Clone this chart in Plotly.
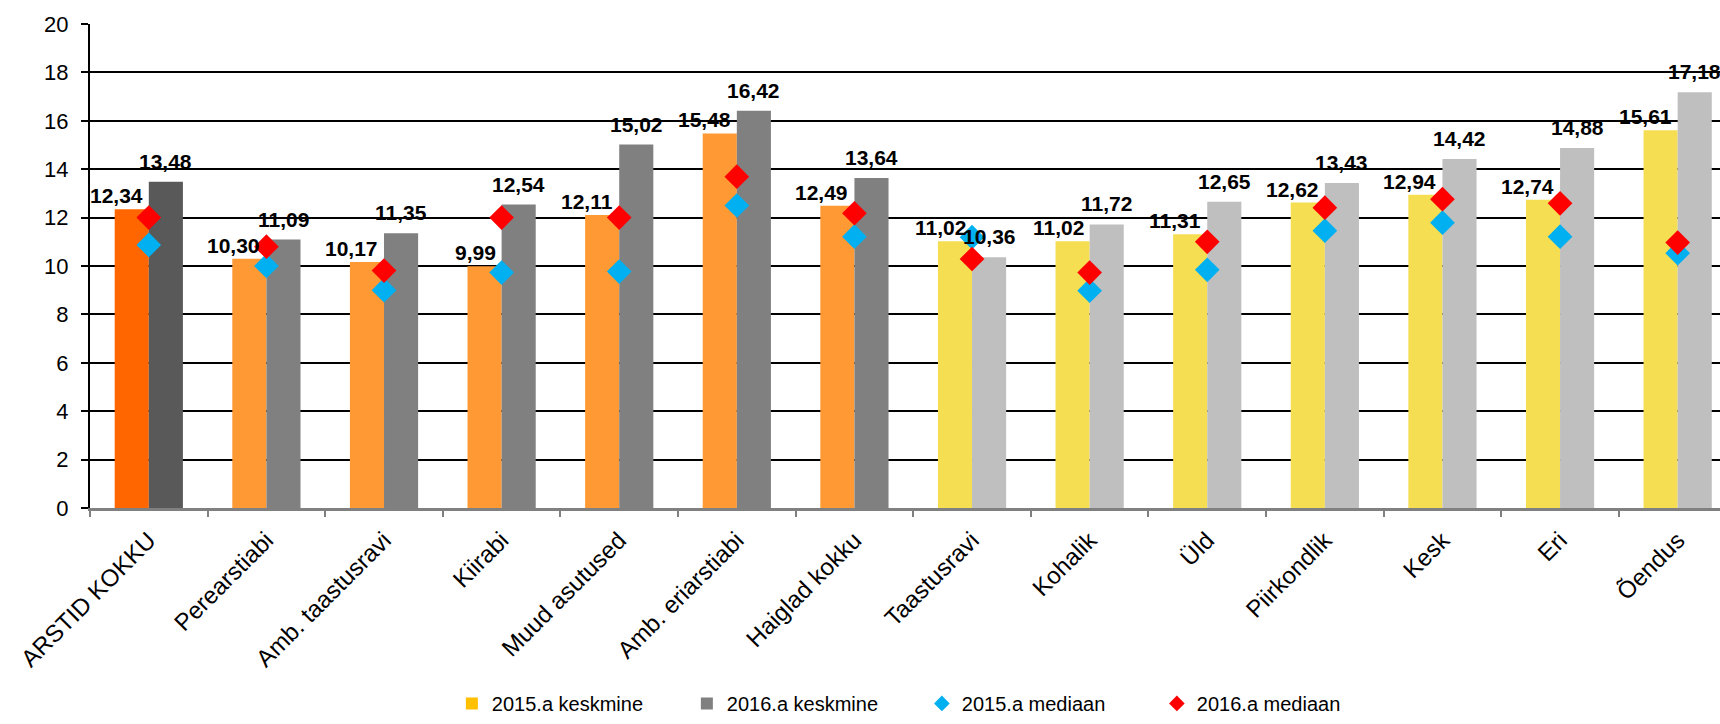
import plotly.graph_objects as go

categories = ["ARSTID KOKKU", "Perearstiabi", "Amb. taastusravi", "Kiirabi", "Muud asutused",
              "Amb. eriarstiabi", "Haiglad kokku", "Taastusravi", "Kohalik", "Üld",
              "Piirkondlik", "Kesk", "Eri", "Õendus"]
mean_2015 = [12.34, 10.30, 10.17, 9.99, 12.11, 15.48, 12.49, 11.02, 11.02, 11.31, 12.62, 12.94, 12.74, 15.61]
mean_2016 = [13.48, 11.09, 11.35, 12.54, 15.02, 16.42, 13.64, 10.36, 11.72, 12.65, 13.43, 14.42, 14.88, 17.18]
median_2015 = [10.87, 10.00, 9.00, 9.73, 9.77, 12.50, 11.21, 11.19, 8.98, 9.84, 11.46, 11.79, 11.21, 10.53]
median_2016 = [12.00, 10.80, 9.81, 12.00, 12.00, 13.69, 12.18, 10.29, 9.73, 11.00, 12.41, 12.76, 12.59, 10.97]
y_ticks = [0, 2, 4, 6, 8, 10, 12, 14, 16, 18, 20]

# colour groups: total, outpatient/other, hospitals
colors_2015 = ["#FF6600"] + ["#FF9933"] * 6 + ["#F6DE52"] * 7
colors_2016 = ["#595959"] + ["#808080"] * 6 + ["#BFBFBF"] * 7

FONT = "Liberation Sans, Arial, sans-serif"

def fmt(v):
    return f"{v:.2f}".replace(".", ",")

fig = go.Figure()
fig.add_trace(go.Bar(x=categories, y=mean_2015, marker=dict(color=colors_2015, line=dict(width=0)),
                     name="2015.a keskmine", showlegend=False, hoverinfo="y"))
fig.add_trace(go.Bar(x=categories, y=mean_2016, marker=dict(color=colors_2016, line=dict(width=0)),
                     name="2016.a keskmine", showlegend=False, hoverinfo="y"))
fig.add_trace(go.Scatter(x=categories, y=median_2015, mode="markers", name="2015.a mediaan",
                         marker=dict(symbol="diamond", size=19, color="#00B0F0", line=dict(width=0)),
                         showlegend=False))
fig.add_trace(go.Scatter(x=categories, y=median_2016, mode="markers", name="2016.a mediaan",
                         marker=dict(symbol="diamond", size=19, color="#FF0000", line=dict(width=0)),
                         showlegend=False))

# legend-only entries
for nm, sym, col in [("2015.a keskmine", "square", "#FFC000"),
                     ("2016.a keskmine", "square", "#808080"),
                     ("2015.a mediaan", "diamond", "#00B0F0"),
                     ("2016.a mediaan", "diamond", "#FF0000")]:
    fig.add_trace(go.Scatter(x=[None], y=[None], mode="markers", name=nm,
                             marker=dict(symbol=sym, size=12, color=col)))

annotations = []
for c, v in zip(categories, mean_2015):
    annotations.append(dict(x=c, y=v, xref="x", yref="y", text=fmt(v), showarrow=False,
                            xanchor="right", yanchor="bottom", xshift=-4, yshift=0,
                            font=dict(family=FONT, size=21, color="black", weight="bold")))
for c, v in zip(categories, mean_2016):
    annotations.append(dict(x=c, y=v, xref="x", yref="y", text=fmt(v), showarrow=False,
                            xanchor="center", yanchor="bottom", xshift=17, yshift=7,
                            font=dict(family=FONT, size=21, color="black", weight="bold")))

fig.update_layout(
    width=1720, height=724,
    margin=dict(l=90, r=0, t=24, b=216, autoexpand=False),
    paper_bgcolor="white", plot_bgcolor="white",
    barmode="group", bargap=0.42, bargroupgap=0,
    font=dict(family=FONT, size=21, color="black"),
    annotations=annotations,
    legend=dict(orientation="h", x=0.222, xanchor="left", y=-0.444, yanchor="bottom",
                font=dict(family=FONT, size=20, color="black"), entrywidth=190,
                itemwidth=30, traceorder="normal"),
    xaxis=dict(range=[-0.5, 13.36], tickangle=-45, showline=True, linecolor="#808080", linewidth=2.5,
               ticks="outside", tickson="boundaries", ticklen=6, tickcolor="#808080", tickwidth=2,
               showgrid=False, automargin=False, ticklabelstandoff=6,
               tickfont=dict(family=FONT, size=24, color="black")),
    yaxis=dict(range=[0, 20], tickvals=y_ticks, showline=True, linecolor="black", linewidth=2,
               ticks="outside", ticklen=7, tickcolor="black", tickwidth=2, automargin=False,
               showgrid=True, gridcolor="black", gridwidth=1.5, zeroline=False,
               tickfont=dict(family=FONT, size=22, color="black"), ticklabelstandoff=8),
)

fig.write_html("out.html", config={"displayModeBar": False},
               post_script="document.body.style.margin='0';document.body.style.overflow='hidden';")
